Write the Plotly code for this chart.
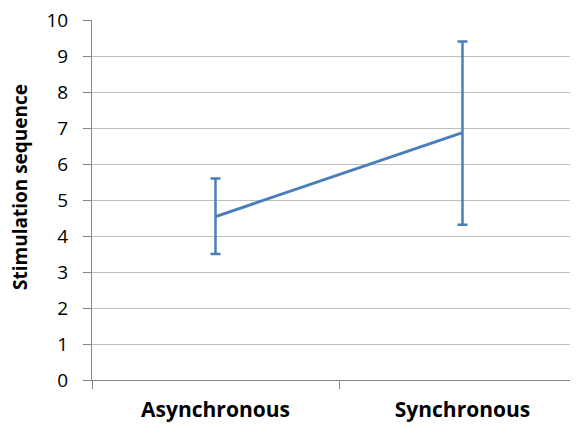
import plotly.graph_objects as go

categories = ["Asynchronous", "Synchronous"]
means = [4.54, 6.87]
err_plus = [1.06, 2.53]
err_minus = [1.04, 2.56]
y_ticks = list(range(0, 11))
y_title = "Stimulation sequence"

# page body has an 8px default margin, so size the figure to fill the rest
W, H = 570, 420
L, T, B, R = 84, 12, 48, 0
plot_w = W - L - R
plot_h = H - T - B
cat_w = 247.0

fig = go.Figure()
fig.add_trace(go.Scatter(
    x=categories, y=means, mode="lines",
    line=dict(color="#4A7EBB", width=3),
    error_y=dict(type="data", symmetric=False, array=err_plus, arrayminus=err_minus,
                 color="#4A7EBB", thickness=2.5, width=5),
    showlegend=False, hoverinfo="skip",
))

fig.update_layout(
    width=W, height=H,
    margin=dict(l=L, r=R, t=T, b=B, autoexpand=False),
    paper_bgcolor="white", plot_bgcolor="white",
    font=dict(family="Open Sans, Noto Sans, sans-serif", color="#000000"),
    xaxis=dict(
        type="category", range=[-0.5, -0.5 + plot_w / cat_w],
        tickson="boundaries", ticks="outside", ticklen=8, tickcolor="#868686",
        tickwidth=1, showline=True, linecolor="#868686", linewidth=1,
        showgrid=False, zeroline=False,
        tickfont=dict(size=21, family="Open Sans, sans-serif", weight="bold"),
        ticklabelstandoff=11, ticklabeloverflow="allow",
    ),
    yaxis=dict(
        range=[0, 10], tickvals=y_ticks, ticks="outside", ticklen=8,
        tickcolor="#868686", tickwidth=1, showline=True, linecolor="#868686",
        linewidth=1, gridcolor="#BEBEBE", gridwidth=1, zeroline=False,
        tickfont=dict(size=19), ticklabelstandoff=11, ticklabeloverflow="allow",
    ),
    annotations=[dict(
        text=y_title, xref="paper", yref="paper",
        x=(20 - 92) / plot_w, y=(380 - 187) / plot_h, textangle=-90,
        showarrow=False, xanchor="center", yanchor="middle", borderpad=0,
        font=dict(size=19, weight="bold"),
    )],
)

fig.write_html("out.html")
